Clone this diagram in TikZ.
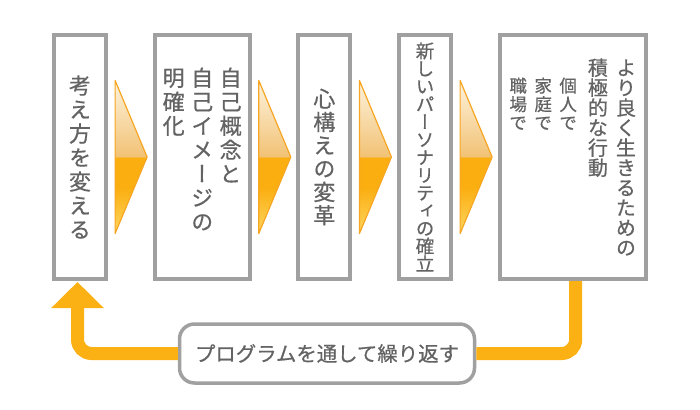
\documentclass[tikz,border=0pt]{standalone}
\usepackage{fontspec}
\usetikzlibrary{shapes.geometric, arrows.meta, positioning}
\newfontfamily\jpfont[FakeBold=0.6]{Noto Sans CJK JP}
\newfontfamily\jpvfont[RawFeature=+vert, FakeBold=0.6]{Noto Sans CJK JP}
\definecolor{boxgray}{HTML}{A0A0A0}
\definecolor{textgray}{HTML}{636363}
\definecolor{loopor}{HTML}{FBB013}
\definecolor{chevline}{HTML}{F6A623}
\definecolor{chevtop}{HTML}{FDF3DE}
\definecolor{chevhi}{HTML}{F2C275}
\definecolor{chevmid}{HTML}{FBAE10}
\definecolor{chevlow}{HTML}{FDD660}
\pgfdeclareverticalshading{chevshade}{100bp}{color(0bp)=(chevlow); color(25bp)=(chevlow); color(40bp)=(chevmid); color(49.9bp)=(chevmid); color(50.1bp)=(chevhi); color(75bp)=(chevtop); color(100bp)=(chevtop)}
\newcommand\tate[1]{\vtop{\lineskiplimit=-\maxdimen\tatego#1\tatestop}}
\def\tatego#1{\ifx#1\tatestop\else\hbox to 1em{\hss#1\hss}\expandafter\tatego\fi}
\let\tatestop\relax

\begin{document}
\begin{tikzpicture}[x=1pt, y=-1pt,
  stepbox/.style={rectangle, draw=boxgray, line width=4pt, fill=white, minimum height=244pt, inner sep=0pt, text=textgray, font=\fontsize{22}{24}\jpvfont},
  chev/.style={isosceles triangle, isosceles triangle stretches, shape border rotate=0, draw=chevline, line width=1.2pt, line join=round, shade, shading=chevshade, minimum width=153pt, minimum height=32pt, inner sep=0pt},
  loopline/.style={draw=loopor, line width=13pt, rounded corners=14pt},
  pill/.style={rectangle, rounded corners=15pt, draw=boxgray, line width=3.5pt, fill=white, minimum width=295pt, minimum height=59pt, text=textgray, font=\fontsize{20.4}{24}\jpfont}
]
\useasboundingbox (0,0) rectangle (700,409);
\node[stepbox, minimum width=52pt] (b1) at (80,157) {\tate{考え方を変える}};
\node[chev, right=6.5pt of b1] (a1) {};
\node[stepbox, minimum width=95pt, right=4pt of a1] (b2) {\raisebox{8pt}[\height][\depth]{\tate{明確化}\hspace{6.5pt}\tate{自己イメージの}\hspace{6.5pt}\tate{自己概念と}}};
\node[chev, right=6.5pt of b2] (a2) {};
\node[stepbox, minimum width=52pt, right=4pt of a2, font=\fontsize{22}{23.3}\jpvfont] (b3) {\tate{心構えの変革}};
\node[chev, right=6.5pt of b3] (a3) {};
\node[stepbox, minimum width=52pt, right=4pt of a3, font=\fontsize{18.5}{17.75}\jpvfont] (b4) {\tate{新しいパーソナリティの確立}};
\node[chev, right=6.5pt of b4] (a4) {};
\node[stepbox, minimum width=146pt, right=4pt of a4, font=\fontsize{20}{20}\jpvfont] (b5) {\lower17pt\hbox{\fontsize{17.5}{18.5}\jpvfont\tate{職場で}\hspace{7.5pt}\tate{家庭で}\hspace{7.5pt}\tate{個人で}}\hspace{11pt}\tate{積極的な行動}\hspace{8pt}\tate{より良く生きるための}};
\node[pill] (lbl) at (327,353.5) {プログラムを通して繰り返す};
\draw[loopline] ([xshift=3pt]b5.south) |- (lbl.east);
\draw[loopline, -{Triangle[length=26pt, width=51pt]}, shorten >=1pt] (lbl.west) -| ([xshift=-2.5pt]b1.south);
\end{tikzpicture}
\end{document}
